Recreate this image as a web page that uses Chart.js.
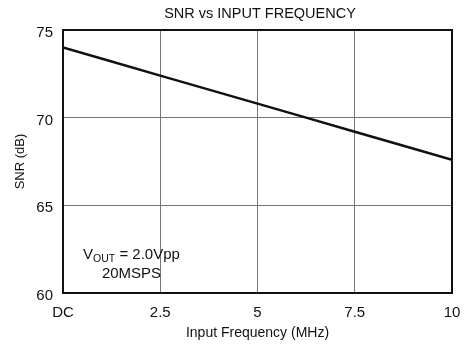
<!DOCTYPE html>
<html>
<head>
<meta charset="utf-8">
<script src="https://cdn.jsdelivr.net/npm/chart.js@4/dist/chart.umd.min.js"></script>
<style>
html,body{margin:0;padding:0;background:#fff;}
#wrap{width:473px;height:349px;position:relative;}
</style>
</head>
<body>
<div id="wrap"><canvas id="c" width="473" height="349"></canvas></div>
<script>
// ---- data ----
const chartTitle = 'SNR vs INPUT FREQUENCY';
const xAxisTitle = 'Input Frequency (MHz)';
const yAxisTitle = 'SNR (dB)';
const freqMHz = [0, 1.25, 2.5, 3.75, 5, 6.25, 7.5, 8.75, 10];
const snrDb   = [74.0, 73.2, 72.4, 71.6, 70.8, 70.0, 69.2, 68.4, 67.6];
const xTickValues = [0, 2.5, 5, 7.5, 10];
const xTickLabels = ['DC', '2.5', '5', '7.5', '10'];
const yTickValues = [60, 65, 70, 75];
const noteLine1 = ['V', 'OUT', ' = 2.0Vpp'];
const noteLine2 = '20MSPS';

const FONT = '"Liberation Sans", Arial, Helvetica, sans-serif';
const INK = '#111';

const framePlugin = {
  id: 'frame',
  afterDatasetsDraw(chart) {
    const {ctx, chartArea: a} = chart;
    ctx.save();
    ctx.strokeStyle = INK;
    ctx.lineWidth = 2;
    ctx.strokeRect(a.left, a.top, a.right - a.left, a.bottom - a.top);
    ctx.restore();
  }
};

const titlePlugin = {
  id: 'plotTitle',
  afterDraw(chart) {
    const {ctx, chartArea: a} = chart;
    ctx.save();
    ctx.fillStyle = INK;
    ctx.font = '14.5px ' + FONT;
    ctx.textAlign = 'center';
    ctx.textBaseline = 'middle';
    ctx.fillText(chartTitle, (a.left + a.right) / 2 + 2.5, a.top - 16.5);
    ctx.restore();
  }
};

const notePlugin = {
  id: 'note',
  afterDraw(chart) {
    const {ctx, chartArea: a} = chart;
    ctx.save();
    ctx.fillStyle = INK;
    ctx.textBaseline = 'alphabetic';
    const big = '15px ' + FONT, small = '10.5px ' + FONT;
    ctx.font = big; const w1 = ctx.measureText(noteLine1[0]).width;
    const w3 = ctx.measureText(noteLine1[2]).width;
    ctx.font = small; const w2 = ctx.measureText(noteLine1[1]).width;
    const cx = a.left + 68.5;
    let x = cx - (w1 + w2 + w3) / 2;
    const y1 = a.bottom - 34;
    ctx.textAlign = 'left';
    ctx.font = big; ctx.fillText(noteLine1[0], x, y1); x += w1;
    ctx.font = small; ctx.fillText(noteLine1[1], x, y1 + 3); x += w2;
    ctx.font = big; ctx.fillText(noteLine1[2], x, y1);
    ctx.textAlign = 'center';
    ctx.fillText(noteLine2, cx, a.bottom - 15.3);
    ctx.restore();
  }
};

new Chart(document.getElementById('c'), {
  type: 'line',
  data: {
    datasets: [{
      data: freqMHz.map((f, i) => ({x: f, y: snrDb[i]})),
      borderColor: INK,
      borderWidth: 2.5,
      pointRadius: 0,
      fill: false,
      tension: 0
    }]
  },
  options: {
    responsive: false,
    animation: false,
    layout: {padding: {left: 0, right: 21, top: 30, bottom: 0}},
    plugins: {
      legend: {display: false},
      tooltip: {enabled: false},
      title: {display: false}
    },
    scales: {
      x: {
        type: 'linear',
        min: 0, max: 10,
        afterBuildTicks: s => { s.ticks = xTickValues.map(v => ({value: v})); },
        afterFit: s => { s.height = 56; },
        ticks: {
          color: INK,
          font: {family: FONT, size: 15},
          padding: 11,
          maxRotation: 0,
          autoSkip: false,
          callback: (v) => { const i = xTickValues.indexOf(v); return i >= 0 ? xTickLabels[i] : ''; }
        },
        grid: {color: '#777', lineWidth: 1, drawTicks: false},
        border: {display: false},
        title: {
          display: true, text: xAxisTitle, color: INK,
          font: {family: FONT, size: 14}, padding: {top: 0, bottom: 7}
        }
      },
      y: {
        type: 'linear',
        min: 60, max: 75,
        afterBuildTicks: s => { s.ticks = yTickValues.map(v => ({value: v})); },
        afterFit: s => { s.width = 63; },
        ticks: {
          color: INK,
          font: {family: FONT, size: 15},
          padding: 10,
          labelOffset: 3
        },
        grid: {color: '#777', lineWidth: 1, drawTicks: false},
        border: {display: false},
        title: {
          display: true, text: yAxisTitle, color: INK,
          font: {family: FONT, size: 13}, padding: {top: 13, bottom: 0}
        }
      }
    }
  },
  plugins: [framePlugin, titlePlugin, notePlugin]
});
</script>
</body>
</html>
